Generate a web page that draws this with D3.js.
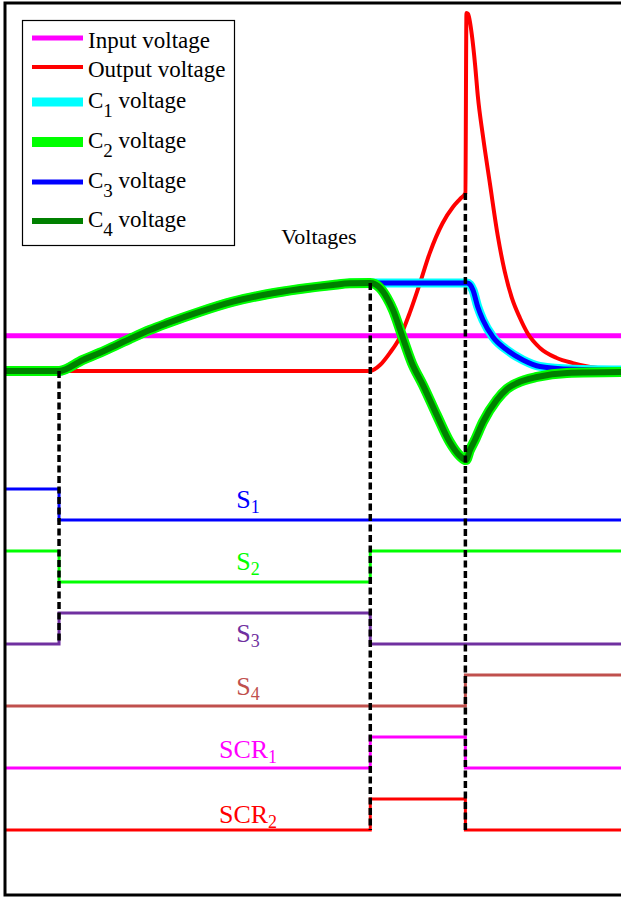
<!DOCTYPE html>
<html>
<head>
<meta charset="utf-8">
<script src="https://cdn.jsdelivr.net/npm/d3@7"></script>
<style>
body{margin:0;background:#fff}
svg{display:block}
text{font-family:"Liberation Serif","Times New Roman",Times,serif}
</style>
</head>
<body>
<svg id="chart" width="621" height="898"></svg>
<script>
// ---------------- DATA ----------------
// time in µs: start, t1, t2, t3, end
const phaseTimes = [0, 10, 67.6, 85.2, 114];

// voltages in V as [time, value]
const inputVoltage = [[0,120],[114,120]];

const outputVoltage = [
  [0,100],[10,100],[67.6,100],[69.4,103.4],[71.2,110.2],[73.1,119.3],[74.9,133.0],
  [76.8,150.0],[78.6,167.0],[81.0,184.1],[82.9,193.2],[84.2,197.7],[85.2,201.1],
  [85.4,303.4],[85.7,302.8],[86.05,298.3],[86.4,290.9],[87.0,273.9],[87.5,256.3],
  [88.45,233.5],[89.75,206.3],[91.2,176.7],[92.5,156.3],[93.8,141.5],[95.3,130.1],
  [96.8,121.0],[99.0,113.1],[102.1,107.4],[105.1,104.5],[108.3,102.3],[114,100.6]
];

const c1Voltage = [
  [0,100],[10,100],[14.4,106.3],[17.6,110.4],[20.7,114.8],[23.7,119.1],[26.8,123.3],
  [30.0,127.1],[36.1,133.7],[42.2,139.4],[48.5,143.6],[54.6,146.6],[60.7,148.9],
  [63.8,149.8],[67.6,150],[85.5,150],[86.05,149.1],[86.6,146.0],[87.5,136.4],
  [88.45,129.0],[90.3,119.3],[92.9,111.9],[95.85,106.3],[99.0,102.6],[105.1,101.0],[114,100.6]
];
const c3Voltage = c1Voltage.slice();

const c2Voltage = [
  [0,100],[10,100],[14.4,106.3],[17.6,110.4],[20.7,114.8],[23.7,119.1],[26.8,123.3],
  [30.0,127.1],[36.1,133.7],[42.2,139.4],[48.5,143.6],[54.6,146.6],[60.7,148.9],
  [63.8,149.8],[67.6,150],[69.4,147.2],[70.7,141.5],[71.8,134.7],[73.5,119.9],
  [75.3,104.5],[77.35,92.0],[79.9,75.0],[82.3,59.7],[84.2,51.7],[85.3,49.4],
  [86.05,55.1],[86.97,60.8],[88.45,71.0],[91.0,83.5],[92.9,89.8],[94.8,93.2],
  [98.45,96.6],[104.0,98.9],[114,99.4]
];
const c4Voltage = c2Voltage.slice();

const seriesNames = ["Input voltage","Output voltage","C|1| voltage","C|2| voltage","C|3| voltage","C|4| voltage"];

// switching signals: state per interval [0-t1, t1-t2, t2-t3, t3-end]
const signalNames = ["S|1","S|2","S|3","S|4","SCR|1","SCR|2"];
const signalStates = [
  [1,0,0,0],
  [1,0,1,1],
  [0,1,0,0],
  [0,0,0,1],
  [0,0,1,0],
  [0,0,1,0]
];

// dashed event markers: time, voltage at top, signal index at bottom
const markerTimes = [10, 67.6, 85.2];
const markerTopVoltage = [100, 150, 201.1];
const markerBottomSignal = [2, 5, 5];

// ---------------- STYLE / LAYOUT ----------------
const svg = d3.select("#chart");
const x = d3.scaleLinear().domain([0,114]).range([5,621]);
const y = d3.scaleLinear().domain([50,150]).range([459,283]);
const sigBase = d3.scaleLinear().domain([0,5]).range([520,830]);
const sigAmp = d3.scaleLinear().domain([0,1]).range([0,-31]);

const seriesData = [inputVoltage, outputVoltage, c1Voltage, c2Voltage, c3Voltage, c4Voltage];
const seriesColors = ["#ff00ff","#ff0000","#00ffff","#00ff00","#0000ff","#008000"];
const seriesWidths = [5, 4, 9, 10, 5, 6];
const drawOrder = [0,1,2,4,3,5];
const signalColors = ["#0000ff","#00ff00","#7030a0","#c0504d","#ff00ff","#ff0000"];
const labelDy = [-12,-12,-2,-11,-10,-7];
const labelX = 248;
const serif = "'Liberation Serif','Times New Roman',Times,serif";

const line = d3.line().x(d=>x(d[0])).y(d=>y(d[1])).curve(d3.curveMonotoneX);

// voltage curves
drawOrder.forEach(i=>{
  svg.append("path")
    .attr("d", line(seriesData[i]))
    .attr("fill","none")
    .attr("stroke", seriesColors[i])
    .attr("stroke-width", seriesWidths[i])
    .attr("stroke-linejoin","round")
    .attr("stroke-linecap","butt");
});

// signals
const stepLine = d3.line().x(d=>x(d[0])).y(d=>d[1]).curve(d3.curveStepAfter);
signalStates.forEach((states,i)=>{
  const pts = phaseTimes.map((t,k)=>[t, sigBase(i)+sigAmp(states[Math.min(k,states.length-1)])]);
  svg.append("path")
    .attr("d", stepLine(pts))
    .attr("fill","none")
    .attr("stroke", signalColors[i])
    .attr("stroke-width", 3);
  const parts = signalNames[i].split("|");
  const t = svg.append("text")
    .attr("x", labelX)
    .attr("y", sigBase(i)+labelDy[i])
    .attr("text-anchor","middle")
    .attr("font-family", serif)
    .attr("fill", signalColors[i])
    .attr("font-size", 26);
  t.append("tspan").text(parts[0]);
  t.append("tspan").attr("font-size",18).attr("dy",5).text(parts[1]);
});

// dashed markers
markerTimes.forEach((tm,i)=>{
  svg.append("line")
    .attr("x1", x(tm)).attr("x2", x(tm))
    .attr("y1", y(markerTopVoltage[i]))
    .attr("y2", sigBase(markerBottomSignal[i]))
    .attr("stroke","#000")
    .attr("stroke-width",3.5)
    .attr("stroke-dasharray","7,3.5");
});

// title
svg.append("text").attr("x",319).attr("y",244).attr("text-anchor","middle")
  .attr("font-family", serif)
  .attr("font-size",22).attr("fill","#000").text("Voltages");

// legend
const legendRowY = [38,67,102,142,182,221];
const lg = svg.append("g");
lg.append("rect").attr("x",22.5).attr("y",20.5).attr("width",212).attr("height",225)
  .attr("fill","#fff").attr("stroke","#000").attr("stroke-width",1.2);
seriesNames.forEach((name,i)=>{
  const ly = legendRowY[i];
  lg.append("line").attr("x1",32).attr("x2",83).attr("y1",ly).attr("y2",ly)
    .attr("stroke",seriesColors[i]).attr("stroke-width",seriesWidths[i]);
  const parts = name.split("|");
  const t = lg.append("text").attr("x",88).attr("font-size",23)
    .attr("font-family", serif).attr("fill","#000");
  if(parts.length===1){
    t.attr("y", ly+10).text(parts[0]);
  } else {
    t.attr("y", ly+6);
    t.append("tspan").text(parts[0]);
    t.append("tspan").attr("font-size",19).attr("dy",9).text(parts[1]);
    t.append("tspan").attr("dy",-9).text(parts[2]);
  }
});

// frame
svg.append("rect").attr("x",5).attr("y",3).attr("width",640).attr("height",892)
  .attr("fill","none").attr("stroke","#000").attr("stroke-width",3);
</script>
</body>
</html>
